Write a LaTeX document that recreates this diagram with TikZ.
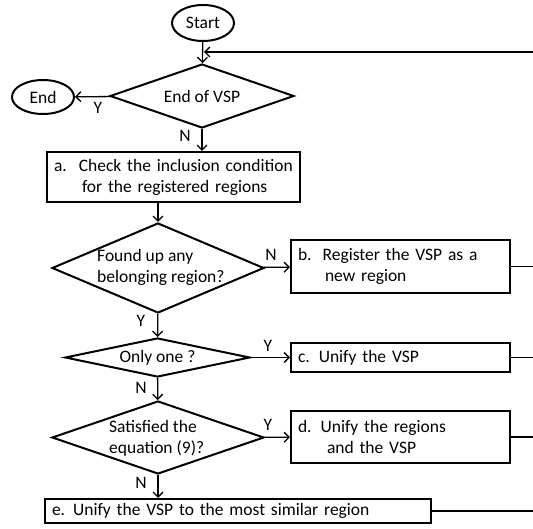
\documentclass[tikz,border=0pt]{standalone}
\usepackage{fontspec}
\setmainfont{Carlito}
\usetikzlibrary{shapes.geometric, arrows.meta}

\begin{document}
\begin{tikzpicture}[x=1pt, y=-1pt,
  every node/.style={font=\fontsize{17.5}{21}\selectfont},
  term/.style={draw, ellipse, line width=2pt, inner sep=0pt},
  decision/.style={draw, diamond, line width=2pt, inner sep=0pt},
  process/.style={draw, rectangle, line width=2pt, inner xsep=7pt, inner ysep=0pt, align=left},
  lbl/.style={inner sep=0pt},
  flow/.style={line width=1.3pt, -{Straight Barb[length=5pt,width=10pt]}},
  back/.style={line width=1.3pt}]
  \useasboundingbox (0,0) rectangle (533,529);

  % start / end
  \node[term, minimum width=62pt, minimum height=36pt] (start) at (203,23) {Start};
  \node[term, minimum width=62pt, minimum height=34pt] (stop) at (43,97) {End};

  % decisions
  \node[decision, minimum width=184pt, minimum height=64pt] (q1) at (202,96) {};
  \node[lbl] (q1t) at (q1) {End of VSP};
  \node[decision, minimum width=212pt, minimum height=90pt] (q2) at (158,268) {};
  \node[lbl, anchor=west, align=left] (q2t) at (97,267) {Found up any\\belonging region?};
  \node[decision, minimum width=185pt, minimum height=39pt] (q3) at (157.5,357.5) {};
  \node[lbl] (q3t) at (q3) {Only one ?};
  \node[decision, minimum width=212pt, minimum height=73pt] (q4) at (158,437.5) {};
  \node[lbl, anchor=west, align=left] (q4t) at (109,438.5) {Satisfied the\\equation (9)?};

  % processes
  \node[process, text width=239pt, minimum height=50pt] (a) at (173.5,177)
    {a.\hspace{12pt}Check the inclusion condition\\\hspace*{28pt}for the registered regions};
  \node[process, text width=205pt, minimum height=53pt] (b) at (400.5,266.5)
    {b.\hspace{11pt}Register the VSP as a\\\hspace*{27pt}new region};
  \node[process, text width=205pt, minimum height=29pt] (c) at (400.5,357.5)
    {c.\hspace{9pt}Unify the VSP};
  \node[process, text width=205pt, minimum height=52pt] (d) at (400.5,437)
    {d.\hspace{9pt}Unify the regions\\\hspace*{29pt}and the VSP};
  \node[process, text width=372pt, minimum height=24pt] (e) at (238,511)
    {e.\hspace{8pt}Unify the VSP to the most similar region};

  % branch labels
  \node[lbl] (y1) at (98,108) {Y};
  \node[lbl] (n1) at (185,136) {N};
  \node[lbl] (n2) at (271,255) {N};
  \node[lbl] (y2) at (141,321) {Y};
  \node[lbl] (y3) at (268,346) {Y};
  \node[lbl] (n3) at (141,388) {N};
  \node[lbl] (y4) at (268,425) {Y};
  \node[lbl] (n4) at (141,483) {N};

  % right edge
  \coordinate (rtop) at (533,52);
  \coordinate (redge) at (533,0);

  % connectors
  \draw[flow] (start) -- (q1);
  \draw[flow] (q1) -- (stop);
  \draw[flow] (q1.south) -- (a.north -| q1.south);
  \draw[flow] (q2.north |- a.south) -- (q2.north);
  \draw[flow] (q2) -- (b);
  \draw[flow] (q2) -- (q3);
  \draw[flow] (q3) -- (c);
  \draw[flow] (q3) -- (q4);
  \draw[flow] (q4) -- (d);
  \draw[flow] (q4.south) -- (e.north -| q4.south);

  % back to the loop
  \draw[back] (b.east) -- (b.east -| redge);
  \draw[back] (c.east) -- (c.east -| redge);
  \draw[back] (d.east) -- (d.east -| redge);
  \draw[back] (e.east) -- (e.east -| redge);
  \draw[flow, shorten >=1pt] (rtop) -- (rtop -| start.south);
\end{tikzpicture}
\end{document}
